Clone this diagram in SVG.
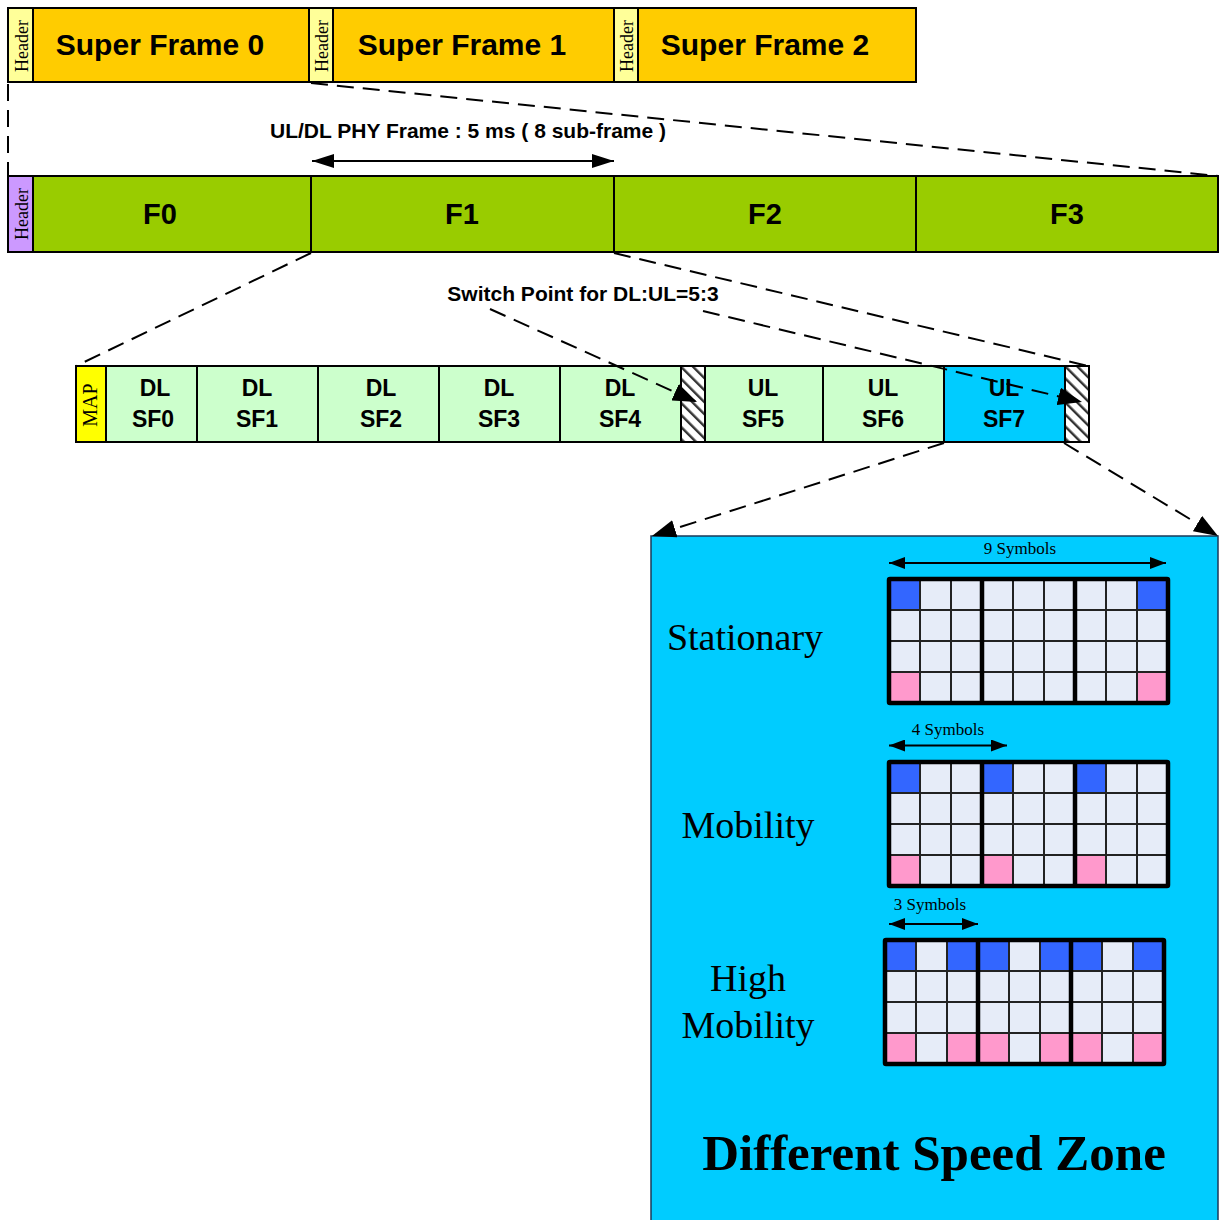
<svg xmlns="http://www.w3.org/2000/svg" width="1221" height="1220" viewBox="0 0 1221 1220">
<style>
.box{stroke:#000;stroke-width:2}
.hdr{fill:#FFFF99}
.sf{fill:#FFCC00}
.fr{fill:#99CC00}
.sub{fill:#CCFFCC}
.lab{font-family:"Liberation Sans",Arial,sans-serif;font-weight:bold;fill:#000;text-anchor:middle}
.ser{font-family:"Liberation Serif","Times New Roman",serif;fill:#000;text-anchor:middle}
.dash{fill:none;stroke:#000;stroke-width:2;stroke-dasharray:17 9}
.solid{fill:none;stroke:#000;stroke-width:2}
.thin{fill:none;stroke:#222;stroke-width:2}
.thick{fill:none;stroke:#000;stroke-width:4.5}
.cell{fill:#E6ECF8}
.blue{fill:#3366FF}
.pink{fill:#FF99CC}
</style>
<defs>
<marker id="ahBig" markerUnits="userSpaceOnUse" viewBox="0 0 22 14" refX="22" refY="7" markerWidth="22" markerHeight="14" orient="auto-start-reverse"><path d="M0,0 L22,7 L0,14 z" fill="#000"/></marker>
<marker id="ahDash" markerUnits="userSpaceOnUse" viewBox="0 0 24 18" refX="24" refY="9" markerWidth="24" markerHeight="18" orient="auto"><path d="M0,0 L24,9 L0,18 z" fill="#000"/></marker>
<marker id="ahSm" markerUnits="userSpaceOnUse" viewBox="0 0 16 12" refX="16" refY="6" markerWidth="16" markerHeight="12" orient="auto-start-reverse"><path d="M0,0 L16,6 L0,12 z" fill="#000"/></marker>
<pattern id="hatch" patternUnits="userSpaceOnUse" width="8.5" height="10" patternTransform="rotate(-45)"><rect width="8.5" height="10" fill="#fff"/><rect width="2.4" height="10" fill="#333"/></pattern>
</defs>

<g id="superframes">
<g id="sf-header-0"><rect class="box hdr" x="8" y="8" width="25" height="74"/><text class="ser" font-size="18" transform="translate(28,46) rotate(-90)">Header</text></g>
<g id="super-frame-0"><rect class="box sf" x="33" y="8" width="276" height="74"/><text class="lab" font-size="30" x="160" y="55">Super Frame 0</text></g>
<g id="sf-header-1"><rect class="box hdr" x="309" y="8" width="24" height="74"/><text class="ser" font-size="18" transform="translate(328,46) rotate(-90)">Header</text></g>
<g id="super-frame-1"><rect class="box sf" x="333" y="8" width="281" height="74"/><text class="lab" font-size="30" x="462" y="55">Super Frame 1</text></g>
<g id="sf-header-2"><rect class="box hdr" x="614" y="8" width="24" height="74"/><text class="ser" font-size="18" transform="translate(633,46) rotate(-90)">Header</text></g>
<g id="super-frame-2"><rect class="box sf" x="638" y="8" width="278" height="74"/><text class="lab" font-size="30" x="765" y="55">Super Frame 2</text></g>
</g>

<g id="frames">
<g id="f-header"><rect class="box" fill="#CC99FF" x="8" y="176" width="25" height="76"/><text class="ser" font-size="18" transform="translate(28,214) rotate(-90)">Header</text></g>
<g id="f0"><rect class="box fr" x="33" y="176" width="278" height="76"/><text class="lab" font-size="29" x="160" y="224">F0</text></g>
<g id="f1"><rect class="box fr" x="311" y="176" width="303" height="76"/><text class="lab" font-size="29" x="462" y="224">F1</text></g>
<g id="f2"><rect class="box fr" x="614" y="176" width="302" height="76"/><text class="lab" font-size="29" x="765" y="224">F2</text></g>
<g id="f3"><rect class="box fr" x="916" y="176" width="302" height="76"/><text class="lab" font-size="29" x="1067" y="224">F3</text></g>
</g>

<g id="subframes">
<g id="map"><rect class="box" fill="#FFFF00" x="76" y="366" width="30" height="76"/><text class="ser" font-size="20" transform="translate(97,405) rotate(-90)">MAP</text></g>
<g id="dl-sf0"><rect class="box sub" x="106" y="366" width="91" height="76"/><text class="lab" font-size="23" x="155" y="396">DL</text><text class="lab" font-size="23" x="153" y="427">SF0</text></g>
<g id="dl-sf1"><rect class="box sub" x="197" y="366" width="121" height="76"/><text class="lab" font-size="23" x="257" y="396">DL</text><text class="lab" font-size="23" x="257" y="427">SF1</text></g>
<g id="dl-sf2"><rect class="box sub" x="318" y="366" width="121" height="76"/><text class="lab" font-size="23" x="381" y="396">DL</text><text class="lab" font-size="23" x="381" y="427">SF2</text></g>
<g id="dl-sf3"><rect class="box sub" x="439" y="366" width="121" height="76"/><text class="lab" font-size="23" x="499" y="396">DL</text><text class="lab" font-size="23" x="499" y="427">SF3</text></g>
<g id="dl-sf4"><rect class="box sub" x="560" y="366" width="121" height="76"/><text class="lab" font-size="23" x="620" y="396">DL</text><text class="lab" font-size="23" x="620" y="427">SF4</text></g>
<g id="gap-1"><rect class="box" fill="url(#hatch)" x="681" y="366" width="24" height="76"/></g>
<g id="ul-sf5"><rect class="box sub" x="705" y="366" width="118" height="76"/><text class="lab" font-size="23" x="763" y="396">UL</text><text class="lab" font-size="23" x="763" y="427">SF5</text></g>
<g id="ul-sf6"><rect class="box sub" x="823" y="366" width="121" height="76"/><text class="lab" font-size="23" x="883" y="396">UL</text><text class="lab" font-size="23" x="883" y="427">SF6</text></g>
<g id="ul-sf7"><rect class="box" fill="#00CCFF" x="944" y="366" width="121" height="76"/><text class="lab" font-size="23" x="1004" y="396">UL</text><text class="lab" font-size="23" x="1004" y="427">SF7</text></g>
<g id="gap-2"><rect class="box" fill="url(#hatch)" x="1065" y="366" width="24" height="76"/></g>
</g>

<g id="speed-zone">
<rect x="651" y="536" width="567" height="690" fill="#00CCFF" stroke="#1a3a5a" stroke-width="1.5"/>
<text class="ser" font-size="38" x="745" y="650">Stationary</text>
<text class="ser" font-size="38" x="748" y="838">Mobility</text>
<text class="ser" font-size="38" x="748" y="991">High</text>
<text class="ser" font-size="38" x="748" y="1038">Mobility</text>
<text class="ser" font-size="51" font-weight="bold" x="934" y="1170">Different Speed Zone</text>
</g>

<g id="grid-stationary">
<rect class="cell" x="889" y="579" width="279" height="124"/>
<rect class="blue" x="889" y="579" width="31" height="31"/><rect class="blue" x="1137" y="579" width="31" height="31"/>
<rect class="pink" x="889" y="672" width="31" height="31"/><rect class="pink" x="1137" y="672" width="31" height="31"/>
<path class="thin" d="M920,579V703M951,579V703M1013,579V703M1044,579V703M1106,579V703M1137,579V703M889,610H1168M889,641H1168M889,672H1168"/>
<path class="thick" d="M982,579V703M1075,579V703"/>
<rect class="thick" x="889" y="579" width="279" height="124" rx="1"/>
<line class="solid" x1="889" y1="563" x2="1166" y2="563" marker-start="url(#ahSm)" marker-end="url(#ahSm)"/>
<text class="ser" font-size="17" x="1020" y="554">9 Symbols</text>
</g>

<g id="grid-mobility">
<rect class="cell" x="889" y="762" width="279" height="124"/>
<rect class="blue" x="889" y="762" width="31" height="31"/><rect class="blue" x="982" y="762" width="31" height="31"/><rect class="blue" x="1075" y="762" width="31" height="31"/>
<rect class="pink" x="889" y="855" width="31" height="31"/><rect class="pink" x="982" y="855" width="31" height="31"/><rect class="pink" x="1075" y="855" width="31" height="31"/>
<path class="thin" d="M920,762V886M951,762V886M1013,762V886M1044,762V886M1106,762V886M1137,762V886M889,793H1168M889,824H1168M889,855H1168"/>
<path class="thick" d="M982,762V886M1075,762V886"/>
<rect class="thick" x="889" y="762" width="279" height="124" rx="1"/>
<line class="solid" x1="889" y1="745.5" x2="1007" y2="745.5" marker-start="url(#ahSm)" marker-end="url(#ahSm)"/>
<text class="ser" font-size="17" x="948" y="735">4 Symbols</text>
</g>

<g id="grid-high-mobility">
<rect class="cell" x="885" y="940" width="279" height="124"/>
<rect class="blue" x="885" y="940" width="31" height="31"/><rect class="blue" x="947" y="940" width="31" height="31"/><rect class="blue" x="978" y="940" width="31" height="31"/><rect class="blue" x="1040" y="940" width="31" height="31"/><rect class="blue" x="1071" y="940" width="31" height="31"/><rect class="blue" x="1133" y="940" width="31" height="31"/>
<rect class="pink" x="885" y="1033" width="31" height="31"/><rect class="pink" x="947" y="1033" width="31" height="31"/><rect class="pink" x="978" y="1033" width="31" height="31"/><rect class="pink" x="1040" y="1033" width="31" height="31"/><rect class="pink" x="1071" y="1033" width="31" height="31"/><rect class="pink" x="1133" y="1033" width="31" height="31"/>
<path class="thin" d="M916,940V1064M947,940V1064M1009,940V1064M1040,940V1064M1102,940V1064M1133,940V1064M885,971H1164M885,1002H1164M885,1033H1164"/>
<path class="thick" d="M978,940V1064M1071,940V1064"/>
<rect class="thick" x="885" y="940" width="279" height="124" rx="1"/>
<line class="solid" x1="889" y1="924" x2="978" y2="924" marker-start="url(#ahSm)" marker-end="url(#ahSm)"/>
<text class="ser" font-size="17" x="930" y="910">3 Symbols</text>
</g>

<g id="connectors">
<line class="dash" x1="8" y1="84" x2="8" y2="176"/>
<line class="dash" x1="311" y1="83" x2="1218" y2="176"/>
<line class="solid" x1="312" y1="161" x2="614" y2="161" marker-start="url(#ahBig)" marker-end="url(#ahBig)"/>
<text class="lab" font-size="21" x="468" y="138">UL/DL PHY Frame : 5 ms ( 8 sub-frame )</text>
<line class="dash" x1="311" y1="253" x2="76" y2="366"/>
<line class="dash" x1="614" y1="253" x2="1088" y2="366"/>
<text class="lab" font-size="21" x="583" y="301">Switch Point for DL:UL=5:3</text>
<line class="dash" x1="490" y1="309" x2="697" y2="402" marker-end="url(#ahDash)"/>
<line class="dash" x1="703" y1="311" x2="1082" y2="402" marker-end="url(#ahDash)"/>
<line class="dash" x1="944" y1="443" x2="652" y2="536" marker-end="url(#ahDash)"/>
<line class="dash" x1="1064" y1="443" x2="1218" y2="536" marker-end="url(#ahDash)"/>
</g>
</svg>
